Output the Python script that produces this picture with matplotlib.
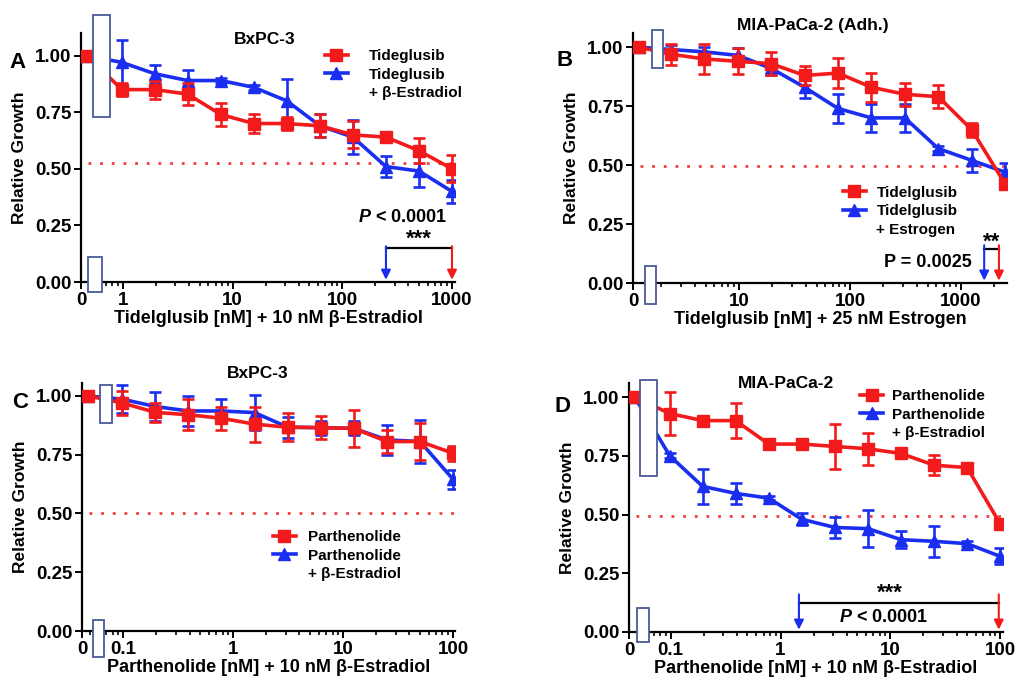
import numpy as np
import matplotlib
matplotlib.use("Agg")
import matplotlib.pyplot as plt
import matplotlib.ticker as mticker
from matplotlib.patches import Rectangle
from matplotlib.lines import Line2D

plt.rcParams['font.family'] = ['Liberation Sans', 'DejaVu Sans']
plt.rcParams['font.weight'] = 'bold'
plt.rcParams['mathtext.fontset'] = 'custom'
plt.rcParams['mathtext.it'] = 'Liberation Sans:bold:italic'
plt.rcParams['mathtext.rm'] = 'Liberation Sans:bold'

RED = '#f21a1a'
BLUE = '#1a2ef0'
BOXC = '#4a5a96'

# ---- data ----
# panel A: BxPC-3, Tideglusib +/- beta-estradiol
conc_a = [0, 0.98, 1.95, 3.9, 7.8, 15.6, 31.25, 62.5, 125, 250, 500, 1000]
red_a = [1.00, 0.85, 0.85, 0.83, 0.74, 0.70, 0.70, 0.69, 0.65, 0.64, 0.58, 0.50]
red_a_err = [0, 0.03, 0.04, 0.05, 0.05, 0.04, 0.03, 0.05, 0.06, 0.01, 0.055, 0.06]
blue_a = [1.00, 0.97, 0.92, 0.89, 0.89, 0.86, 0.80, 0.69, 0.64, 0.51, 0.49, 0.40]
blue_a_err = [0, 0.10, 0.04, 0.045, 0.01, 0.01, 0.095, 0.05, 0.075, 0.045, 0.07, 0.05]

# panel B: MIA-PaCa-2 (Adh.), Tideglusib +/- estrogen
conc_b = [0, 2.44, 4.88, 9.77, 19.5, 39, 78, 156, 312, 625, 1250, 2500]
red_b = [1.00, 0.97, 0.95, 0.94, 0.93, 0.88, 0.89, 0.83, 0.80, 0.79, 0.65, 0.42]
red_b_err = [0, 0.045, 0.065, 0.055, 0.05, 0.04, 0.065, 0.062, 0.05, 0.05, 0.03, 0.01]
blue_b = [1.00, 0.99, 0.98, 0.965, 0.91, 0.83, 0.74, 0.70, 0.70, 0.57, 0.52, 0.47]
blue_b_err = [0, 0.02, 0.02, 0.03, 0.03, 0.045, 0.06, 0.06, 0.06, 0.01, 0.05, 0.04]

# panel C: BxPC-3, Parthenolide +/- beta-estradiol
conc_c = [0, 0.098, 0.195, 0.39, 0.78, 1.56, 3.125, 6.25, 12.5, 25, 50, 100]
red_c = [1.00, 0.97, 0.93, 0.92, 0.905, 0.88, 0.867, 0.865, 0.862, 0.806, 0.806, 0.756]
red_c_err = [0, 0.05, 0.04, 0.065, 0.05, 0.075, 0.06, 0.05, 0.078, 0.05, 0.078, 0.033]
blue_c = [1.00, 0.986, 0.955, 0.936, 0.936, 0.929, 0.867, 0.865, 0.862, 0.813, 0.806, 0.645]
blue_c_err = [0, 0.06, 0.062, 0.065, 0.05, 0.075, 0.045, 0.03, 0.03, 0.065, 0.09, 0.04]

# panel D: MIA-PaCa-2, Parthenolide +/- beta-estradiol
conc_d = [0, 0.098, 0.195, 0.39, 0.78, 1.56, 3.125, 6.25, 12.5, 25, 50, 100]
red_d = [1.00, 0.93, 0.90, 0.90, 0.80, 0.80, 0.79, 0.78, 0.76, 0.71, 0.70, 0.46]
red_d_err = [0, 0.09, 0.01, 0.075, 0.01, 0.015, 0.095, 0.068, 0.01, 0.043, 0.01, 0.01]
blue_d = [1.00, 0.75, 0.62, 0.59, 0.57, 0.48, 0.445, 0.44, 0.393, 0.386, 0.376, 0.322]
blue_d_err = [0, 0.01, 0.075, 0.045, 0.01, 0.025, 0.044, 0.08, 0.035, 0.067, 0.01, 0.034]

panels = [
    dict(letter='A', title='BxPC-3', conc=conc_a, red=red_a, rerr=red_a_err, blue=blue_a, berr=blue_a_err,
         rlab='Tideglusib', blab='Tideglusib', blab2='+ β-Estradiol',
         xlabel='Tidelglusib [nM] + 10 nM β-Estradiol', half=0.525,
         xticks=[1, 10, 100, 1000], xticklabels=['1', '10', '100', '1000']),
    dict(letter='B', title='MIA-PaCa-2 (Adh.)', conc=conc_b, red=red_b, rerr=red_b_err, blue=blue_b, berr=blue_b_err,
         rlab='Tidelglusib', blab='Tidelglusib', blab2='+ Estrogen',
         xlabel='Tidelglusib [nM] + 25 nM Estrogen', half=0.497,
         xticks=[10, 100, 1000], xticklabels=['10', '100', '1000']),
    dict(letter='C', title='BxPC-3', conc=conc_c, red=red_c, rerr=red_c_err, blue=blue_c, berr=blue_c_err,
         rlab='Parthenolide', blab='Parthenolide', blab2='+ β-Estradiol',
         xlabel='Parthenolide [nM] + 10 nM β-Estradiol', half=0.50,
         xticks=[0.1, 1, 10, 100], xticklabels=['0.1', '1', '10', '100']),
    dict(letter='D', title='MIA-PaCa-2', conc=conc_d, red=red_d, rerr=red_d_err, blue=blue_d, berr=blue_d_err,
         rlab='Parthenolide', blab='Parthenolide', blab2='+ β-Estradiol',
         xlabel='Parthenolide [nM] + 10 nM β-Estradiol', half=0.494,
         xticks=[0.1, 1, 10, 100], xticklabels=['0.1', '1', '10', '100']),
]

# ---- layout (pixel based) ----
W, H = 1018, 683
fig = plt.figure(figsize=(W / 100, H / 100), dpi=100)

def px_axes(x0, ytop, x1, ybot):
    return [x0 / W, 1 - ybot / H, (x1 - x0) / W, (ybot - ytop) / H]

layout = {
    'A': dict(rect=px_axes(81, 33, 455, 282), xlim=(0.415, 1065), ylim=1.10, zero=0.47,
              title_xy=(0.49, 0.975), leg=(0.652, 0.936), htp=1.4,
              boxes=[(0.032, 0.663, 0.045, 0.41), (0.019, -0.04, 0.037, 0.14)],
              letter_xy=(18, 62)),
    'B': dict(rect=px_axes(633, 33, 1007, 283), xlim=(1.11, 2600), ylim=1.06, zero=1.26,
              title_xy=(0.48, 1.03), leg=(0.561, 0.39), htp=0.7,
              boxes=[(0.051, 0.86, 0.029, 0.152), (0.032, -0.084, 0.029, 0.152)],
              letter_xy=(565, 60)),
    'C': dict(rect=px_axes(82, 383, 455, 631), xlim=(0.042, 104), ylim=1.055, zero=0.048,
              title_xy=(0.47, 1.04), leg=(0.512, 0.407), htp=0.8,
              boxes=[(0.048, 0.839, 0.032, 0.153), (0.029, -0.105, 0.029, 0.149)],
              letter_xy=(20, 402)),
    'D': dict(rect=px_axes(629, 383, 1003, 632), xlim=(0.0417, 106), ylim=1.06, zero=0.047,
              title_xy=(0.42, 1.0), leg=(0.618, 0.976), htp=0.6,
              boxes=[(0.029, 0.627, 0.045, 0.386), (0.021, -0.04, 0.032, 0.137)],
              letter_xy=(562, 407)),
}

axes = {}
for p in panels:
    L = layout[p['letter']]
    ax = fig.add_axes(L['rect'])
    axes[p['letter']] = ax
    x = np.array(p['conc'], dtype=float)
    x[x == 0] = L['zero']

    ax.errorbar(x, p['blue'], yerr=p['berr'], color=BLUE, marker='^', ms=8.5, lw=2.6,
                elinewidth=1.9, capsize=4.5, capthick=1.9, zorder=3)
    ax.errorbar(x, p['red'], yerr=p['rerr'], color=RED, marker='s', ms=8, lw=2.6,
                elinewidth=1.9, capsize=4.5, capthick=1.9, zorder=4)
    ax.axhline(p['half'], xmin=0.02, xmax=1.0, color=RED, lw=2.0, alpha=0.85,
               ls=(0, (1, 3.2)), zorder=2)

    ax.set_xscale('log')
    ax.set_xlim(*L['xlim'])
    ax.set_ylim(0, L['ylim'])
    ax.xaxis.set_major_locator(mticker.FixedLocator([L['xlim'][0]] + p['xticks']))
    ax.xaxis.set_major_formatter(mticker.FixedFormatter(['0'] + p['xticklabels']))
    ax.xaxis.set_minor_locator(mticker.LogLocator(base=10, subs=np.arange(2, 10), numticks=20))
    ax.xaxis.set_minor_formatter(mticker.NullFormatter())
    ax.set_yticks([0, 0.25, 0.5, 0.75, 1.0])
    ax.set_yticklabels(['0.00', '0.25', '0.50', '0.75', '1.00'])
    for s in ['top', 'right']:
        ax.spines[s].set_visible(False)
    for s in ['left', 'bottom']:
        ax.spines[s].set_linewidth(1.6)
    ax.tick_params(axis='both', which='major', length=5, width=1.4, labelsize=13.5, pad=2)
    ax.tick_params(axis='x', which='minor', length=3, width=1.2)
    ax.set_ylabel('Relative Growth', fontsize=12.5, fontweight='bold', labelpad=6)
    ax.set_xlabel(p['xlabel'], fontsize=13, fontweight='bold', labelpad=1)
    ax.text(L['title_xy'][0], L['title_xy'][1], p['title'], transform=ax.transAxes,
            ha='center', va='center', fontsize=12.5, fontweight='bold')

    handles = [Line2D([], [], color=RED, marker='s', ms=8, lw=2.6),
               Line2D([], [], color=BLUE, marker='^', ms=8.5, lw=2.6),
               Line2D([], [], color='none')]
    ax.legend(handles, [p['rlab'], p['blab'], p['blab2']], loc='upper left',
              bbox_to_anchor=L['leg'], frameon=False, fontsize=11, borderpad=0,
              borderaxespad=0, labelspacing=0.3, handlelength=1.5,
              handletextpad=L['htp'])

    for bx, by, bw, bh in L['boxes']:
        ax.add_patch(Rectangle((bx, by), bw, bh, transform=ax.transAxes, facecolor='white',
                               edgecolor=BOXC, lw=1.3, clip_on=False, zorder=10))

    fig.text(L['letter_xy'][0] / W, 1 - L['letter_xy'][1] / H, p['letter'],
             fontsize=16, fontweight='bold', ha='center', va='center')

def sig(ax, xb, xr, yline, ytop, yarrow=0.01):
    ax.plot([xb, xr], [yline, yline], color='black', lw=1.6, zorder=5)
    for xx, cc in [(xb, BLUE), (xr, RED)]:
        ax.annotate('', xy=(xx, yarrow), xytext=(xx, ytop),
                    arrowprops=dict(arrowstyle='-|>', color=cc, lw=1.5, mutation_scale=14,
                                    shrinkA=0, shrinkB=0), zorder=5)

# significance annotations
ax = axes['A']
sig(ax, 250, 1000, 0.148, 0.158)
ax.text(500, 0.19, '***', ha='center', va='center', fontsize=16)
ax.text(351, 0.285, '$P$ < 0.0001', ha='center', va='center', fontsize=13)

ax = axes['B']
sig(ax, 1620, 2200, 0.145, 0.16)
ax.text(1890, 0.175, '**', ha='center', va='center', fontsize=16)
ax.text(1256, 0.089, 'P = 0.0025', ha='right', va='center', fontsize=13)

ax = axes['D']
sig(ax, 1.47, 97, 0.123, 0.16)
ax.text(10, 0.165, '***', ha='center', va='center', fontsize=16)
ax.text(8.7, 0.06, '$P$ < 0.0001', ha='center', va='center', fontsize=13)

fig.savefig('out.png', dpi=100)
